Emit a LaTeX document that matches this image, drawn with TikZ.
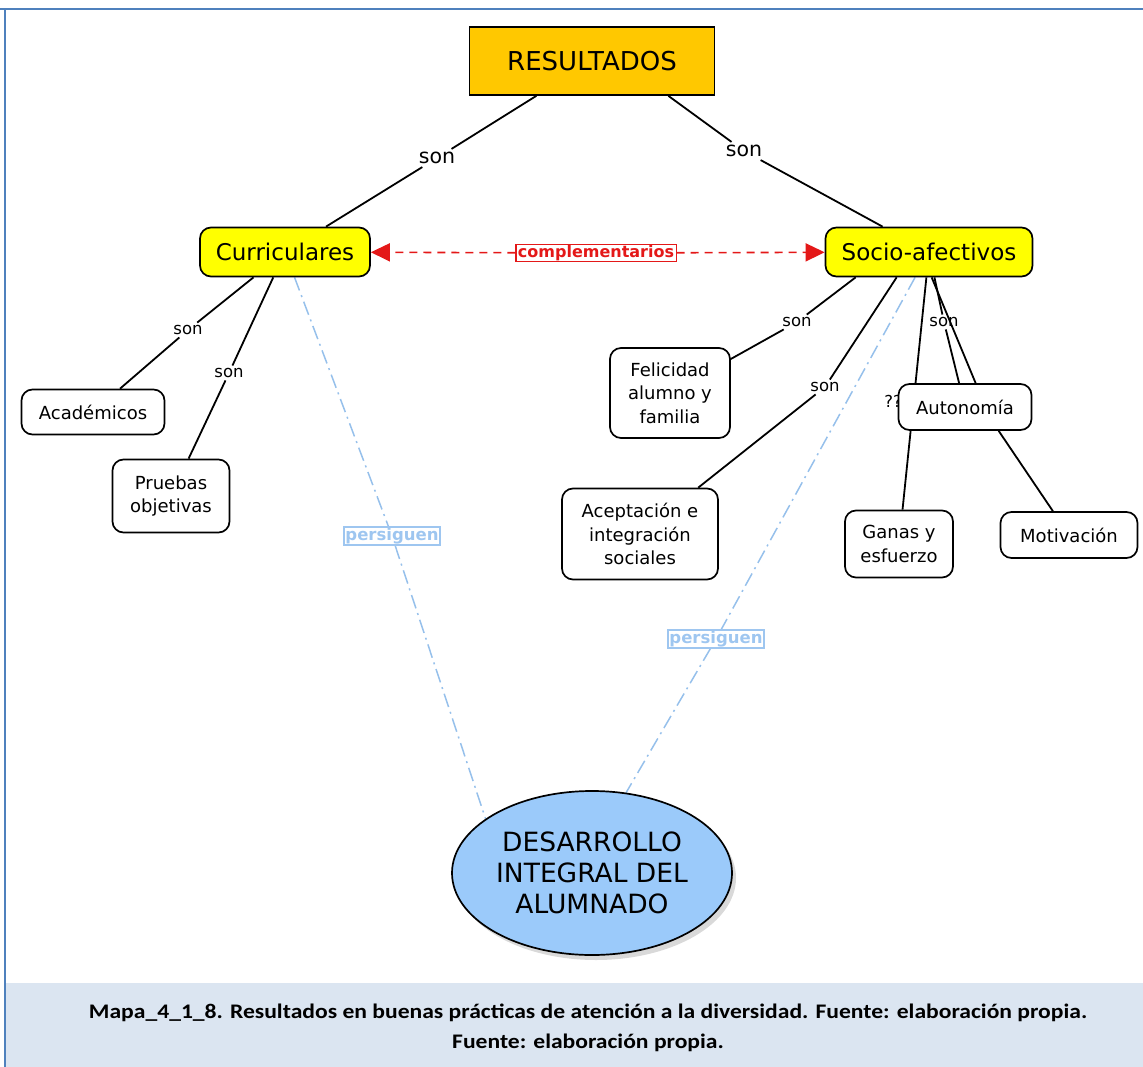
\documentclass[tikz,border=0pt]{standalone}
\usepackage{fontspec}
\setmainfont{DejaVu Sans}
\newfontfamily\capfont[FakeStretch=1.14]{Carlito}
\usetikzlibrary{shapes.geometric,arrows.meta,shadows,backgrounds}

\definecolor{resorange}{RGB}{255,200,0}
\definecolor{topyellow}{RGB}{255,255,0}
\definecolor{goalblue}{RGB}{150,192,235}
\definecolor{persblue}{RGB}{158,198,240}
\definecolor{desblue}{RGB}{155,202,250}
\definecolor{comred}{RGB}{228,24,24}
\definecolor{capband}{RGB}{219,229,241}
\definecolor{frameblue}{RGB}{79,129,189}

\tikzset{
  concept/.style={draw=black, line width=1.7pt, rounded corners=11pt, fill=white,
    align=center, inner sep=0pt, font=\fontsize{18}{23.5}\selectfont},
  topic/.style={concept, fill=topyellow, font=\fontsize{23}{28}\selectfont},
  son/.style={inner sep=2.5pt, font=\fontsize{16.5}{20}\selectfont},
  bigson/.style={inner sep=3pt, font=\fontsize{20.5}{24}\selectfont},
  link/.style={line width=1.8pt},
  goal/.style={goalblue, line width=1.5pt, dash pattern=on 14pt off 5pt on 2pt off 5pt},
  pers/.style={draw=persblue, line width=1.2pt, text=persblue, inner xsep=1.5pt,
    inner ysep=1pt, font=\bfseries\fontsize{16.5}{20}\selectfont},
  comparrow/.style={comred, line width=1.6pt, dash pattern=on 8pt off 6pt,
    -{Triangle[length=19pt,width=18pt]}},
}

\begin{document}
\begin{tikzpicture}[x=1pt,y=-1pt]
\useasboundingbox (0,0) rectangle (1143,1067);
% frame and caption band
\fill[capband] (5,983) rectangle (1143,1067);
\draw[frameblue,line width=1.5pt] (0,9) -- (1143,9);
\draw[frameblue,line width=1.2pt] (5,9) -- (5,1067);

% concepts
\node[concept, fill=resorange, rounded corners=0pt, minimum width=245pt, minimum height=68pt,
  font=\fontsize{26}{30}\selectfont] (res) at (592,61) {RESULTADOS};
\node[topic, minimum width=170pt, minimum height=49pt] (cur) at (285,252) {Curriculares};
\node[topic, minimum width=207pt, minimum height=49pt] (soc) at (929,252) {Socio-afectivos};
\node[concept, minimum width=143pt, minimum height=45pt] (acad) at (93,412) {Académicos};
\node[concept, minimum width=117pt, minimum height=73pt] (prue) at (171,496) {Pruebas\\objetivas};
\node[concept, minimum width=120pt, minimum height=90pt] (fel) at (670,393) {Felicidad\\alumno y\\familia};
\node[concept, minimum width=156pt, minimum height=91pt] (acep) at (640,534) {Aceptación e\\integración\\sociales};
\node[son] (qq) at (893,401) {??};
\node[concept, minimum width=133pt, minimum height=46pt] (aut) at (965,407) {Autonomía};
\node[concept, minimum width=108pt, minimum height=67pt] (ganas) at (899,544) {Ganas y\\esfuerzo};
\node[concept, minimum width=137pt, minimum height=46pt] (mot) at (1069,535) {Motivación};
\node[draw, ellipse, line width=1.7pt, fill=desblue, minimum width=280pt, minimum height=164pt,
  inner sep=0pt, align=center, font=\fontsize{26.5}{31}\selectfont,
  drop shadow={shadow xshift=4pt, shadow yshift=-5pt, opacity=.3}]
  (des) at (592,873) {DESARROLLO\\INTEGRAL DEL\\ALUMNADO};

% linking phrases
\node[bigson] (son1) at (437,158) {son};
\node[bigson] (son2) at (744,151) {son};
\node[son] (son3) at (188,330) {son};
\node[son] (son4) at (229,373) {son};
\node[son] (son5) at (797,322) {son};
\node[son] (son6) at (825,387) {son};
\node[son] (son7) at (944,322) {son};
\node[draw=comred, line width=1.2pt, fill=white, text=comred, inner xsep=2pt, inner ysep=1pt,
  font=\bfseries\fontsize{16}{20}\selectfont] (comp) at (596,253) {complementarios};
\node[pers] (pers1) at (392,536) {persiguen};
\node[pers] (pers2) at (716,639) {persiguen};

\begin{scope}[on background layer]
  \draw[link] (res) -- (son1);
  \draw[link] (son1) -- (cur);
  \draw[link] ([xshift=-47pt]res.south east) -- (son2);
  \draw[link] (son2) -- (soc);
  \draw[link] (cur) -- (son3);
  \draw[link] (son3) -- (acad);
  \draw[link] (cur) -- (son4);
  \draw[link] (son4) -- (prue);
  \draw[link] ([xshift=31pt]soc.south west) -- (son5);
  \draw[link] (son5) -- (fel);
  \draw[link] ([xshift=72pt]soc.south west) -- (son6);
  \draw[link] (son6) -- (acep);
  \draw[link] (soc) -- (ganas);
  \draw[link] (soc) -- (son7);
  \draw[link] (son7) -- (aut);
  \draw[link] ([xshift=107pt]soc.south west) -- ([xshift=78pt]aut.north west);
  \draw[link] ([xshift=101pt]aut.south west) -- (mot);
  % persiguen links
  \draw[goal] (cur) -- (pers1);
  \draw[goal] (pers1) -- (des.153);
  \draw[goal] (soc) -- (pers2);
  \draw[goal] (pers2) -- (des.67);
\end{scope}

\draw[comparrow] (comp) -- (cur);
\draw[comparrow] (comp) -- (soc);

% caption
\node[align=center, font=\capfont\bfseries\fontsize{20.7}{30}\selectfont] (cap) at (588,1028)
  {Mapa\_4\_1\_8. Resultados en buenas prácticas de atención a la diversidad. Fuente: elaboración propia.\\Fuente: elaboración propia.};
\end{tikzpicture}
\end{document}
